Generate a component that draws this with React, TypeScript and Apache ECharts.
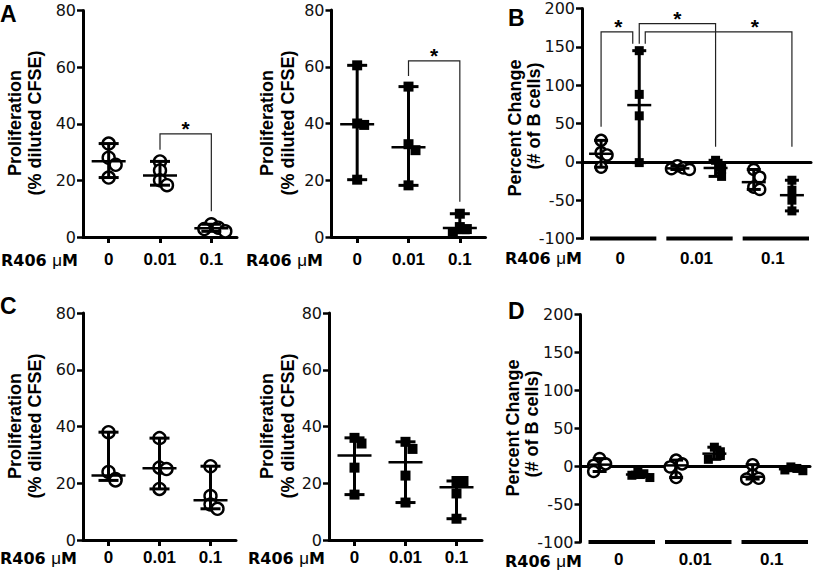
import React, { useEffect, useRef } from "react";
import * as echarts from "echarts";

const FONT = '"Liberation Sans", Arial, Helvetica, sans-serif';
const WIDE_FONT = '"DejaVu Sans", "Liberation Sans", Arial, sans-serif';

// ---------- data ----------
const doseLabels = ["0", "0.01", "0.1"];
const pairGroupNames = ["0 ctrl", "0 R406", "0.01 ctrl", "0.01 R406", "0.1 ctrl", "0.1 R406"];
const prolifRange = { min: 0, max: 80, interval: 20 };
const pctRange = { min: -100, max: 200, interval: 50 };

// Panel A (proliferation, % diluted CFSE)
const aLeftValues = [
  [33, 28, 25.5, 21],
  [26.7, 23.5, 20, 18.3],
  [4.5, 3.3, 2.8, 2.0],
];
const aRightValues = [
  [60.5, 40, 39.5, 20.2],
  [53, 32.7, 30.6, 18.2],
  [8.2, 3.5, 2.8, 1.5],
];
// Panel B (percent change, # of B cells); even = open circles, odd = filled squares
const bValues = [
  [28, 12, 9, -7],
  [145, 88, 60, -1],
  [-5, -8, -9, -10],
  [2, -6, -10, -19],
  [-10, -20, -33, -36],
  [-24, -37, -50, -64],
];
// Panel C
const cLeftValues = [
  [38, 24, 21.5, 21],
  [35.9, 25.5, 25, 18],
  [26, 15.5, 12.5, 11],
];
const cRightValues = [
  [36, 34, 25.5, 16],
  [34.6, 32.1, 22.7, 13.2],
  [20.8, 20.8, 16.4, 7.5],
];
// Panel D
const dValues = [
  [10, 3, 1, -7],
  [-8, -10, -12, -15],
  [8, 3, -1, -15],
  [25, 19, 14, 9],
  [2, -12, -16, -17],
  [-1, -3, -5, -6],
];

// significance brackets (category indices and values)
const aLeftBrackets = [{ from: 1, to: 2, top: 36.4, fromEnd: 30.8, toEnd: 9.1, star: 1.5 }];
const aRightBrackets = [{ from: 1, to: 2, top: 62.1, fromEnd: 56.7, toEnd: 12.4, star: 1.5 }];
const bBrackets = [
  { from: 0, to: 1, top: 169.6, fromEnd: 45.7, toEnd: 154, star: 0.45 },
  { from: 1, to: 3, top: 180.4, fromEnd: 154, toEnd: 19.6, star: 2.0 },
  { from: 1, to: 5, top: 169.6, fromEnd: 154, toEnd: 19.6, star: 4.03 },
];
// pixel shifts of bracket legs (style)
const bBracketShifts = [[0, -6.5], [0, 0], [6, 0]];

// ---------- helpers ----------
const median = (a: number[]) => {
  const s = [...a].sort((x, y) => x - y);
  const n = s.length;
  return n % 2 ? s[(n - 1) / 2] : (s[n / 2 - 1] + s[n / 2]) / 2;
};

const jitter = (vals: number[], tol: number, step: number) =>
  vals.map((v, i) => {
    let n = 0;
    for (let j = 0; j < i; j++) if (Math.abs(vals[j] - v) < tol) n++;
    if (n === 0) return 0;
    return (n % 2 === 1 ? step : -step) * Math.ceil(n / 2);
  });

const grids = [
  { left: 83, top: 10.5, width: 154, height: 226.5 }, // A left
  { left: 331.5, top: 10, width: 154, height: 227 }, // A right
  { left: 582, top: 8.5, width: 229, height: 230 }, // B
  { left: 83, top: 313, width: 153, height: 227 }, // C left
  { left: 329, top: 313, width: 153, height: 227 }, // C right
  { left: 580.5, top: 314.5, width: 229.5, height: 227.5 }, // D
];

const yAxisCfg = (gridIndex: number, r: { min: number; max: number; interval: number }) => ({
  type: "value",
  gridIndex,
  min: r.min,
  max: r.max,
  interval: r.interval,
  axisLine: { show: true, lineStyle: { color: "#000", width: 3 } },
  axisTick: { show: true, length: 6, lineStyle: { color: "#000", width: 2.5 } },
  axisLabel: { color: "#111", fontFamily: WIDE_FONT, fontSize: 16, margin: 7 },
  splitLine: { show: false },
});

const doseAxisCfg = (gridIndex: number, margin: number) => ({
  type: "category",
  gridIndex,
  position: "bottom",
  data: doseLabels,
  boundaryGap: true,
  axisLine: { show: true, onZero: true, lineStyle: { color: "#000", width: 3 } },
  axisTick: { show: true, alignWithLabel: true, length: 6, lineStyle: { color: "#000", width: 3 } },
  axisLabel: { color: "#000", fontFamily: FONT, fontSize: 17, fontWeight: "bold", margin },
});

const pairAxisCfg = (gridIndex: number) => ({
  type: "category",
  gridIndex,
  position: "bottom",
  data: pairGroupNames,
  boundaryGap: true,
  axisLine: { show: true, onZero: true, lineStyle: { color: "#000", width: 3 } },
  axisTick: { show: false },
  axisLabel: { show: false },
});

const pairLabelAxisCfg = (gridIndex: number, margin: number) => ({
  type: "category",
  gridIndex,
  position: "bottom",
  data: doseLabels,
  boundaryGap: true,
  axisLine: { show: false, onZero: false },
  axisTick: { show: false },
  axisLabel: { color: "#000", fontFamily: FONT, fontSize: 17, fontWeight: "bold", margin },
});

const scatterSeries = (
  groups: number[][],
  idxs: number[],
  xAxisIndex: number,
  yAxisIndex: number,
  open: boolean,
  size: number,
  tol: number,
  step: number
) => {
  const data: any[] = [];
  idxs.forEach((gi) => {
    const offs = jitter(groups[gi], tol, step);
    groups[gi].forEach((v, k) => {
      data.push({ value: [gi, v], symbolOffset: [offs[k], 0] });
    });
  });
  return {
    type: "scatter",
    xAxisIndex,
    yAxisIndex,
    z: 2,
    symbol: open ? "circle" : "rect",
    symbolSize: size,
    itemStyle: open
      ? { color: "#fff", borderColor: "#000", borderWidth: 2.4, opacity: 1 }
      : { color: "#000", opacity: 1 },
    data,
  };
};

const errorBarSeries = (
  groups: number[][],
  xAxisIndex: number,
  yAxisIndex: number,
  capHalf: number,
  medHalf: number
) => ({
  type: "custom",
  xAxisIndex,
  yAxisIndex,
  z: 4,
  data: groups.map((g, i) => [i, median(g)]),
  encode: { x: 0, y: 1 },
  renderItem: (params: any, api: any) => {
    const i = params.dataIndex;
    const g = groups[i];
    const lo = api.coord([i, Math.min(...g)]);
    const hi = api.coord([i, Math.max(...g)]);
    const md = api.coord([i, median(g)]);
    const x = lo[0];
    const st = { stroke: "#000", lineWidth: 3 };
    return {
      type: "group",
      children: [
        { type: "line", shape: { x1: x, y1: lo[1], x2: x, y2: hi[1] }, style: st },
        { type: "line", shape: { x1: x - capHalf, y1: lo[1], x2: x + capHalf, y2: lo[1] }, style: st },
        { type: "line", shape: { x1: x - capHalf, y1: hi[1], x2: x + capHalf, y2: hi[1] }, style: st },
        {
          type: "line",
          shape: { x1: x - medHalf, y1: md[1], x2: x + medHalf, y2: md[1] },
          style: { stroke: "#000", lineWidth: 2.5 },
        },
      ],
    };
  },
});

const bracketSeries = (
  list: { from: number; to: number; top: number; fromEnd: number; toEnd: number; star: number }[],
  xAxisIndex: number,
  yAxisIndex: number,
  shifts: number[][]
) => ({
  type: "custom",
  xAxisIndex,
  yAxisIndex,
  z: 3,
  data: list.map((b) => [b.from, b.top]),
  encode: { x: 0, y: 1 },
  renderItem: (params: any, api: any) => {
    const b = list[params.dataIndex];
    const s = shifts[params.dataIndex] || [0, 0];
    const pf = api.coord([b.from, b.top]);
    const pt = api.coord([b.to, b.top]);
    const yf = api.coord([b.from, b.fromEnd])[1];
    const yt = api.coord([b.to, b.toEnd])[1];
    const xf = pf[0] + s[0];
    const xt = pt[0] + s[1];
    const y = pf[1];
    const c0 = api.coord([0, b.top])[0];
    const c1 = api.coord([1, b.top])[0];
    const sx = c0 + b.star * (c1 - c0);
    return {
      type: "group",
      children: [
        {
          type: "polyline",
          shape: { points: [[xf, yf], [xf, y], [xt, y], [xt, yt]] },
          style: { stroke: "#222", lineWidth: 1.2, fill: null },
        },
        {
          type: "text",
          style: {
            text: "*",
            x: sx,
            y: y - 5,
            font: `bold 21px ${FONT}`,
            fill: "#000",
            align: "center",
            verticalAlign: "middle",
            textAlign: "center",
            textVerticalAlign: "middle",
          },
        },
      ],
    };
  },
});

const groupBarSeries = (xAxisIndex: number, yAxisIndex: number, yVal: number) => ({
  type: "custom",
  xAxisIndex,
  yAxisIndex,
  z: 3,
  data: doseLabels.map((_, g) => [2 * g, yVal]),
  encode: { x: 0, y: 1 },
  renderItem: (params: any, api: any) => {
    const g = params.dataIndex;
    const a = api.coord([2 * g, yVal]);
    const b = api.coord([2 * g + 1, yVal]);
    const bw = b[0] - a[0];
    return {
      type: "line",
      shape: { x1: a[0] - bw / 2 + 8, y1: a[1], x2: b[0] + bw / 2 - 2, y2: a[1] },
      style: { stroke: "#000", lineWidth: 4 },
    };
  },
});

const txt = (text: string, x: number, y: number, font: string, align: string, rotate = false) => ({
  type: "text",
  x,
  y,
  rotation: rotate ? Math.PI / 2 : 0,
  style: {
    text,
    font,
    fill: "#000",
    align,
    verticalAlign: "middle",
    textAlign: align,
    textVerticalAlign: "middle",
  },
});

const doseTitle = (xRight: number, y: number) => ({
  type: "text",
  x: xRight,
  y,
  style: {
    text: "{b|R406 }{m|\u03bc}{b|M}",
    align: "right",
    verticalAlign: "middle",
    textAlign: "right",
    textVerticalAlign: "middle",
    rich: {
      b: { fontFamily: WIDE_FONT, fontSize: 16, fontWeight: "bold", fill: "#000", color: "#000" },
      m: { fontFamily: FONT, fontSize: 17, fontWeight: "normal", fill: "#000", color: "#000" },
    },
  },
});

const buildOption = () => {
  const titleFont = `bold 18px ${FONT}`;
  const letterFont = `bold 23px ${FONT}`;
  return {
    animation: false,
    backgroundColor: "#fff",
    grid: grids.map((g) => ({ ...g, containLabel: false })),
    xAxis: [
      doseAxisCfg(0, 14), // 0 A left
      doseAxisCfg(1, 14), // 1 A right
      pairAxisCfg(2), // 2 B groups
      pairLabelAxisCfg(2, 11), // 3 B dose labels
      doseAxisCfg(3, 9), // 4 C left
      doseAxisCfg(4, 9), // 5 C right
      pairAxisCfg(5), // 6 D groups
      pairLabelAxisCfg(5, 9), // 7 D dose labels
    ],
    yAxis: [
      yAxisCfg(0, prolifRange),
      yAxisCfg(1, prolifRange),
      yAxisCfg(2, pctRange),
      yAxisCfg(3, prolifRange),
      yAxisCfg(4, prolifRange),
      yAxisCfg(5, pctRange),
    ],
    series: [
      // A left
      scatterSeries(aLeftValues, [0, 1, 2], 0, 0, true, 12, 3, 7),
      errorBarSeries(aLeftValues, 0, 0, 10, 17),
      bracketSeries(aLeftBrackets, 0, 0, [[0, 0]]),
      // A right
      scatterSeries(aRightValues, [0, 1, 2], 1, 1, false, 10, 3, 7),
      errorBarSeries(aRightValues, 1, 1, 10, 17),
      bracketSeries(aRightBrackets, 1, 1, [[0, 0]]),
      // B
      scatterSeries(bValues, [0, 2, 4], 2, 2, true, 11, 11, 6),
      scatterSeries(bValues, [1, 3, 5], 2, 2, false, 9, 11, 6),
      errorBarSeries(bValues, 2, 2, 7, 12),
      bracketSeries(bBrackets, 2, 2, bBracketShifts),
      groupBarSeries(2, 2, pctRange.min),
      // C left
      scatterSeries(cLeftValues, [0, 1, 2], 4, 3, true, 12, 3, 7),
      errorBarSeries(cLeftValues, 4, 3, 10, 17),
      // C right
      scatterSeries(cRightValues, [0, 1, 2], 5, 4, false, 10, 3, 7),
      errorBarSeries(cRightValues, 5, 4, 10, 17),
      // D
      scatterSeries(dValues, [0, 2, 4], 6, 5, true, 11, 11, 6),
      scatterSeries(dValues, [1, 3, 5], 6, 5, false, 9, 11, 6),
      errorBarSeries(dValues, 6, 5, 7, 12),
      groupBarSeries(6, 5, pctRange.min),
    ],
    graphic: [
      txt("A", 0, 14, letterFont, "left"),
      txt("B", 508, 18, letterFont, "left"),
      txt("C", 0, 306, letterFont, "left"),
      txt("D", 508, 311, letterFont, "left"),
      // y titles
      txt("Proliferation", 15, 123, titleFont, "center", true),
      txt("(% diluted CFSE)", 35, 123, titleFont, "center", true),
      txt("Proliferation", 267, 123, titleFont, "center", true),
      txt("(% diluted CFSE)", 288, 123, titleFont, "center", true),
      txt("Percent Change", 515, 128, titleFont, "center", true),
      txt("(# of B cells)", 534, 116, titleFont, "center", true),
      txt("Proliferation", 15, 426, titleFont, "center", true),
      txt("(% diluted CFSE)", 35, 426, titleFont, "center", true),
      txt("Proliferation", 267, 426, titleFont, "center", true),
      txt("(% diluted CFSE)", 288, 426, titleFont, "center", true),
      txt("Percent Change", 513, 428, titleFont, "center", true),
      txt("(# of B cells)", 532, 424, titleFont, "center", true),
      // dose row titles
      doseTitle(78, 260),
      doseTitle(323, 260),
      doseTitle(582, 258),
      doseTitle(77, 558),
      doseTitle(325, 558),
      doseTitle(582, 561),
    ],
  };
};

export default function App() {
  const ref = useRef<HTMLDivElement>(null);
  useEffect(() => {
    if (!ref.current) return;
    const chart = echarts.init(ref.current, null, { renderer: "svg" });
    chart.setOption(buildOption() as any);
    return () => chart.dispose();
  }, []);
  return (
    <div
      ref={ref}
      style={{ position: "absolute", left: 0, top: 0, width: 815, height: 577, background: "#fff" }}
    />
  );
}
